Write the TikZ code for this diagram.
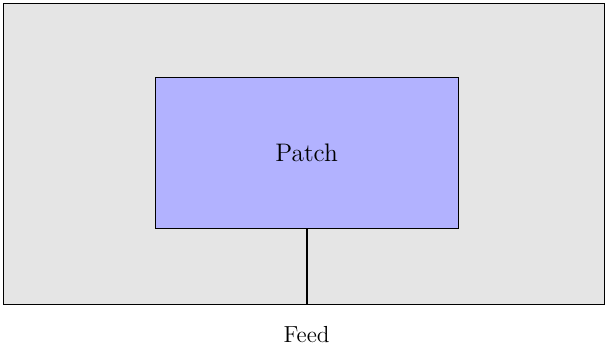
\documentclass[tikz,border=0pt]{standalone}
\usepackage{tikz}
\usetikzlibrary{positioning}
\tikzstyle{ground} = [rectangle, minimum width=10cm, minimum height=5cm, draw=black, fill=black!10]
\tikzstyle{patch} = [rectangle, minimum width=5.04cm, minimum height=2.52cm, text centered, draw=black, fill=blue!30, font=\large]
\tikzstyle{feedline} = [line width=1pt]

\begin{document}
\begin{tikzpicture}

\useasboundingbox (-0.062,-0.812) rectangle (10.021,5.062);

\node (ground) [ground] at (5,2.5) {};
\node (patch) [patch] at (5.04,2.52) {Patch};
\node (feed) [below=0.24cm of ground.south, xshift=0.04cm, font=\fontsize{11}{13}\selectfont] {Feed};

\draw [feedline] (patch.south) -- (patch.south |- ground.south);

\end{tikzpicture}
\end{document}
